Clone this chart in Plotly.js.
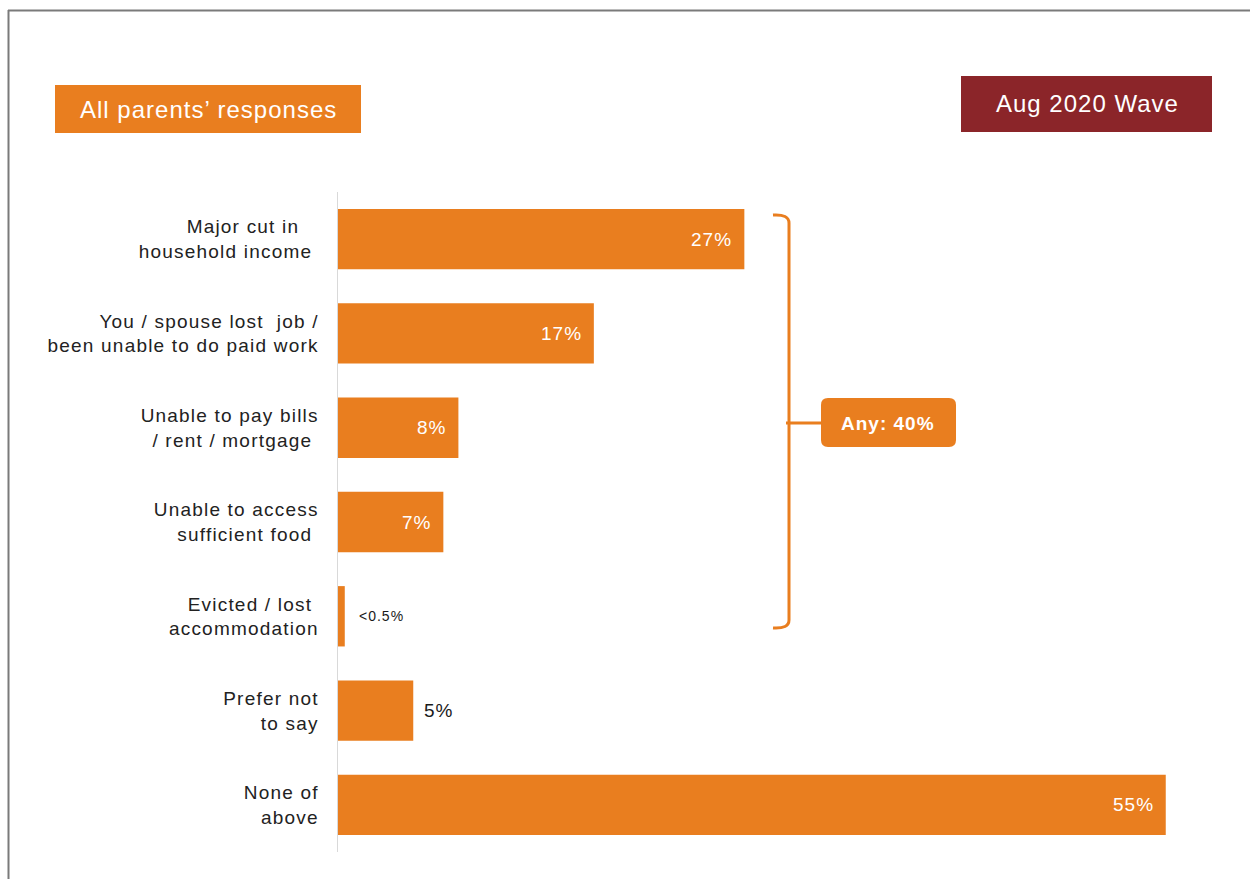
<!DOCTYPE html>
<html>
<head>
<meta charset="utf-8">
<script src="https://cdn.plot.ly/plotly-3.0.1.min.js"></script>
<style>
  html, body { margin: 0; padding: 0; background: #fff; }
  #chart { width: 1250px; height: 879px; }
  .ytick text { letter-spacing: 1.2px; }
  .annotation-text { letter-spacing: 1px; }
</style>
</head>
<body>
<div id="chart"></div>
<script>
// ---- data ----
const categories = [
  "Major cut in\u00A0\u00A0\u00A0<br>household income\u00A0",
  "You / spouse lost  job /<br>been unable to do paid work",
  "Unable to pay bills<br>/ rent / mortgage\u00A0",
  "Unable to access<br>sufficient food\u00A0",
  "Evicted / lost\u00A0<br>accommodation",
  "Prefer not<br>to say",
  "None of<br>above"
];
const values = [27, 17, 8, 7, 0.45, 5, 55];
const valueLabels = ["27%", "17%", "8%", "7%", "<0.5%", "5%", "55%"];
const groupLabel = "Any: 40%";
const panelTitle = "All parents\u2019 responses";
const waveTitle = "Aug 2020 Wave";

// ---- styles ----
const ORANGE = "#E97E1F";
const DARKRED = "#8B2529";
const FONT = "Liberation Sans, Arial, sans-serif";
const W = 1250, H = 879;
const M = {l: 338, r: 9, t: 192, b: 27};
const PW = W - M.l - M.r, PH = H - M.t - M.b;
const px = v => (v - M.l) / PW;
const py = v => (H - M.b - v) / PH;
const P = (x, y) => px(x).toFixed(5) + "," + py(y).toFixed(5);

function roundRect(x0, y0, x1, y1, r) {
  return "M" + P(x0 + r, y0) + " L" + P(x1 - r, y0) + " Q" + P(x1, y0) + " " + P(x1, y0 + r) +
    " L" + P(x1, y1 - r) + " Q" + P(x1, y1) + " " + P(x1 - r, y1) +
    " L" + P(x0 + r, y1) + " Q" + P(x0, y1) + " " + P(x0, y1 - r) +
    " L" + P(x0, y0 + r) + " Q" + P(x0, y0) + " " + P(x0 + r, y0) + " Z";
}

const shapes = [
  // frame
  {type: "line", xref: "paper", yref: "paper", x0: px(8), x1: px(1252), y0: py(10.5), y1: py(10.5), line: {color: "#7a7a7a", width: 2}},
  {type: "line", xref: "paper", yref: "paper", x0: px(8.5), x1: px(8.5), y0: py(10), y1: py(881), line: {color: "#7a7a7a", width: 2}},
  // header boxes
  {type: "rect", xref: "paper", yref: "paper", x0: px(55), x1: px(361), y0: py(85), y1: py(133), fillcolor: ORANGE, line: {width: 0}},
  {type: "rect", xref: "paper", yref: "paper", x0: px(961), x1: px(1212), y0: py(76), y1: py(132), fillcolor: DARKRED, line: {width: 0}},
  // bracket
  {type: "path", xref: "paper", yref: "paper",
   path: "M" + P(773, 215) + " Q" + P(789, 214) + " " + P(789, 223) + " L" + P(789, 620) + " Q" + P(789, 629) + " " + P(773, 628),
   line: {color: ORANGE, width: 3}},
  {type: "path", xref: "paper", yref: "paper",
   path: "M" + P(786, 423) + " L" + P(822, 423),
   line: {color: ORANGE, width: 3}},
  // Any box
  {type: "path", xref: "paper", yref: "paper", path: roundRect(821, 398, 956, 447, 7), fillcolor: ORANGE, line: {width: 0}}
];

const annotations = [
  {xref: "paper", yref: "paper", x: px(208), y: py(109), text: panelTitle, showarrow: false,
   xanchor: "center", yanchor: "middle", font: {family: FONT, size: 24, color: "#ffffff"}},
  {xref: "paper", yref: "paper", x: px(1087), y: py(103), text: waveTitle, showarrow: false,
   xanchor: "center", yanchor: "middle", font: {family: FONT, size: 24, color: "#ffffff"}},
  {xref: "paper", yref: "paper", x: px(888), y: py(423), text: "<b>" + groupLabel + "</b>", showarrow: false,
   xanchor: "center", yanchor: "middle", font: {family: FONT, size: 19, color: "#ffffff"}}
];

values.forEach((v, i) => {
  const inside = v >= 6;
  const small = v < 1;
  annotations.push({
    xref: "x", yref: "y", x: v, y: categories[i], text: valueLabels[i], showarrow: false,
    xanchor: inside ? "right" : "left", yanchor: "middle",
    xshift: inside ? -10 : (small ? 12 : 9),
    font: {family: FONT, size: small ? 14 : 19, color: inside ? "#ffffff" : "#1a1a1a"}
  });
});

const trace = {
  type: "bar", orientation: "h",
  x: values, y: categories,
  marker: {color: ORANGE, line: {width: 0}},
  hoverinfo: "skip"
};

const layout = {
  width: W, height: H,
  margin: M,
  paper_bgcolor: "#ffffff", plot_bgcolor: "#ffffff",
  showlegend: false,
  bargap: 0.36,
  xaxis: {range: [0, 60], visible: false, fixedrange: true},
  yaxis: {
    type: "category", autorange: "reversed",
    showline: true, linecolor: "#d9d9d9", linewidth: 1.5,
    showgrid: false, zeroline: false, ticks: "",
    ticklabelstandoff: 14,
    tickfont: {family: FONT, size: 19, color: "#222222"},
    fixedrange: true
  },
  shapes: shapes,
  annotations: annotations
};

Plotly.newPlot("chart", [trace], layout, {displayModeBar: false, staticPlot: true});
</script>
</body>
</html>
